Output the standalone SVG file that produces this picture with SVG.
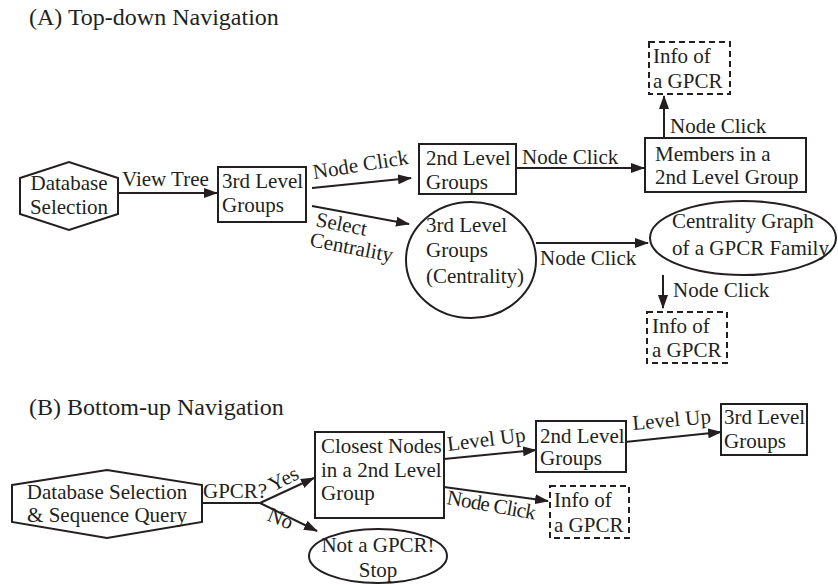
<svg xmlns="http://www.w3.org/2000/svg" width="838" height="585" viewBox="0 0 838 585">
<defs>
<style>
text{font-family:'Liberation Serif','DejaVu Serif',serif;font-size:21px;fill:#231f20}
.title{font-size:24px}
.box{fill:#fff;stroke:#231f20;stroke-width:2}
.dash{fill:#fff;stroke:#231f20;stroke-width:2;stroke-dasharray:6 4}
.edge{fill:none;stroke:#231f20;stroke-width:2}
.c{text-anchor:middle}
</style>
<marker id="ah" markerUnits="userSpaceOnUse" markerWidth="14" markerHeight="10" refX="13" refY="5" orient="auto">
<path d="M0,0 L14,5 L0,10 z" fill="#231f20"/>
</marker>
</defs>
<rect width="838" height="585" fill="#fff"/>

<text class="title" x="29" y="25">(A) Top-down Navigation</text>
<text class="title" x="29" y="415">(B) Bottom-up Navigation</text>

<g id="connectors">
<path class="edge" d="M118,193 L217,193" marker-end="url(#ah)"/>
<path class="edge" d="M312,188 L411,178" marker-end="url(#ah)"/>
<path class="edge" d="M312,206 L409,224" marker-end="url(#ah)"/>
<path class="edge" d="M517,168 L644,168" marker-end="url(#ah)"/>
<path class="edge" d="M664,138 L664,96" marker-end="url(#ah)"/>
<path class="edge" d="M536,243 L648,243" marker-end="url(#ah)"/>
<path class="edge" d="M663,275 L663,308" marker-end="url(#ah)"/>
<path class="edge" d="M202,503 L260,503"/>
<path class="edge" d="M260,503 L314,478" marker-end="url(#ah)"/>
<path class="edge" d="M260,503 L317,531" marker-end="url(#ah)"/>
<path class="edge" d="M444,459 L536,450" marker-end="url(#ah)"/>
<path class="edge" d="M625,442 L721,432" marker-end="url(#ah)"/>
<path class="edge" d="M444,487 L548,501" marker-end="url(#ah)"/>
<text x="122" y="186">View Tree</text>
<text transform="translate(314,179) rotate(-9)">Node Click</text>
<text transform="translate(315,226) rotate(11)">Select</text>
<text transform="translate(309,246) rotate(11)">Centrality</text>
<text x="522" y="164">Node Click</text>
<text x="670" y="133">Node Click</text>
<text x="540" y="265">Node Click</text>
<text x="673" y="297">Node Click</text>
<text x="203" y="498">GPCR?</text>
<text transform="translate(273,492) rotate(-27)">Yes</text>
<text transform="translate(266,520) rotate(22)">No</text>
<text transform="translate(448,451) rotate(-7)">Level Up</text>
<text transform="translate(633,430) rotate(-5)">Level Up</text>
<text transform="translate(446,504) rotate(10)" textLength="90">Node Click</text>
</g>

<g id="db-a">
<polygon class="box" points="20,178 69,162 118,178 118,214 69,230 20,214"/>
<text class="c" x="69" y="190">Database</text>
<text class="c" x="69" y="214">Selection</text>
</g>
<g id="l3-a">
<rect class="box" x="218" y="167" width="88" height="55"/>
<text x="222" y="188">3rd Level</text>
<text x="222" y="212">Groups</text>
</g>
<g id="l2-a">
<rect class="box" x="419" y="144" width="97" height="50"/>
<text x="426" y="165">2nd Level</text>
<text x="426" y="189">Groups</text>
</g>
<g id="members">
<rect class="box" x="645" y="138" width="161" height="54"/>
<text x="655" y="161">Members in a</text>
<text x="655" y="184">2nd Level Group</text>
</g>
<g id="info-a1">
<rect class="dash" x="649" y="42" width="81" height="52"/>
<text x="653" y="63">Info of</text>
<text x="653" y="88">a GPCR</text>
</g>
<g id="l3c">
<ellipse class="box" cx="471" cy="260" rx="65" ry="58"/>
<text x="426" y="232">3rd Level</text>
<text x="426" y="257">Groups</text>
<text x="426" y="283">(Centrality)</text>
</g>
<g id="cgraph">
<ellipse class="box" cx="743" cy="238" rx="93" ry="37"/>
<text x="672" y="228">Centrality Graph</text>
<text x="672" y="255">of a GPCR Family</text>
</g>
<g id="info-a2">
<rect class="dash" x="647" y="312" width="80" height="51"/>
<text x="652" y="333">Info of</text>
<text x="652" y="357">a GPCR</text>
</g>

<g id="db-b">
<polygon class="box" points="12,485 107,470 202,485 202,522 107,538 12,522"/>
<text class="c" x="107" y="499">Database Selection</text>
<text class="c" x="107" y="522">&amp; Sequence Query</text>
</g>
<g id="closest">
<rect class="box" x="315" y="432" width="129" height="86"/>
<text x="321" y="453">Closest Nodes</text>
<text x="321" y="477">in a 2nd Level</text>
<text x="321" y="500">Group</text>
</g>
<g id="l2-b">
<rect class="box" x="536" y="421" width="90" height="51"/>
<text x="540" y="443">2nd Level</text>
<text x="540" y="465">Groups</text>
</g>
<g id="l3-b">
<rect class="box" x="721" y="404" width="86" height="51"/>
<text x="724" y="424">3rd Level</text>
<text x="724" y="448">Groups</text>
</g>
<g id="info-b">
<rect class="dash" x="550" y="486" width="79" height="52"/>
<text x="554" y="507">Info of</text>
<text x="554" y="532">a GPCR</text>
</g>
<g id="notgpcr">
<ellipse class="box" cx="378" cy="556" rx="69" ry="27"/>
<text class="c" x="378" y="552">Not a GPCR!</text>
<text class="c" x="378" y="577">Stop</text>
</g>
</svg>
